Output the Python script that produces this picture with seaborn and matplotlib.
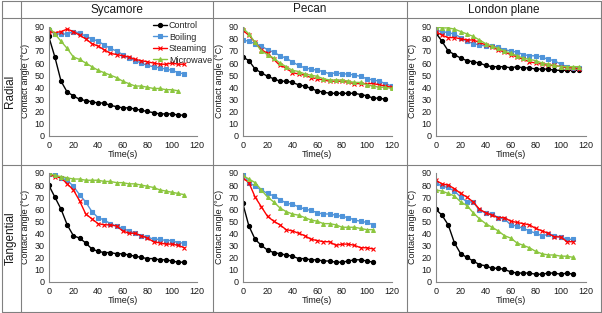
import matplotlib
matplotlib.use('Agg')
import matplotlib.pyplot as plt
import seaborn as sns
from matplotlib.lines import Line2D

sns.set_theme(style='white')
plt.rcParams['font.family'] = ['Liberation Sans', 'DejaVu Sans']

W, H = 602, 313

species = ['Sycamore', 'Pecan', 'London plane']
directions = ['Radial', 'Tangential']
treatments = ['Control', 'Boiling', 'Steaming', 'Microwave']
x_ticks = [0, 20, 40, 60, 80, 100, 120]
y_ticks = [0, 10, 20, 30, 40, 50, 60, 70, 80, 90]
x_label = 'Time(s)'
y_label = 'Contact angle (°C)'

time_0_105 = [0, 5, 10, 15, 20, 25, 30, 35, 40, 45, 50, 55, 60, 65, 70, 75, 80, 85, 90, 95, 100, 105]
time_0_110 = [0, 5, 10, 15, 20, 25, 30, 35, 40, 45, 50, 55, 60, 65, 70, 75, 80, 85, 90, 95, 100, 105, 110]
time_0_115 = [0, 5, 10, 15, 20, 25, 30, 35, 40, 45, 50, 55, 60, 65, 70, 75, 80, 85, 90, 95, 100, 105, 110, 115]
time_0_120 = [0, 5, 10, 15, 20, 25, 30, 35, 40, 45, 50, 55, 60, 65, 70, 75, 80, 85, 90, 95, 100, 105, 110, 115, 120]

# Sycamore - radial
syc_rad_control = [82, 65, 45, 36, 33, 30, 29, 28, 27, 27, 25, 24, 23, 23, 22, 21, 20, 19, 18, 18, 18, 17, 17]
syc_rad_boiling = [87, 84, 84, 84, 86, 85, 82, 80, 78, 75, 72, 70, 67, 64, 62, 60, 58, 57, 56, 55, 54, 52, 51]
syc_rad_steaming = [86, 85, 86, 88, 86, 83, 80, 76, 74, 71, 68, 67, 66, 65, 63, 62, 61, 60, 59, 59, 60, 59, 59]
syc_rad_microwave = [90, 84, 78, 72, 65, 63, 60, 57, 54, 52, 50, 48, 45, 43, 41, 41, 40, 39, 39, 38, 38, 37]
# Pecan - radial
pec_rad_control = [65, 62, 55, 52, 49, 47, 45, 45, 44, 42, 41, 39, 37, 36, 35, 35, 35, 35, 35, 34, 33, 31, 31, 30]
pec_rad_boiling = [79, 78, 76, 74, 71, 69, 66, 64, 61, 58, 56, 55, 54, 53, 51, 52, 51, 51, 50, 49, 47, 46, 45, 43, 41]
pec_rad_steaming = [87, 83, 77, 71, 68, 63, 58, 56, 52, 51, 50, 48, 47, 46, 45, 45, 45, 44, 43, 43, 43, 43, 42, 41, 40]
pec_rad_microwave = [89, 84, 77, 70, 67, 64, 60, 57, 54, 53, 51, 50, 49, 47, 46, 46, 46, 45, 44, 44, 42, 41, 40, 40, 39]
# London plane - radial
lon_rad_control = [85, 78, 70, 67, 64, 62, 61, 60, 58, 57, 57, 57, 56, 57, 56, 56, 55, 55, 55, 54, 54, 54, 54, 54]
lon_rad_boiling = [87, 86, 85, 84, 81, 78, 76, 75, 74, 74, 73, 71, 70, 69, 67, 66, 66, 65, 63, 62, 59, 57, 56, 56]
lon_rad_steaming = [86, 83, 81, 81, 80, 79, 79, 77, 75, 73, 71, 69, 67, 65, 63, 61, 60, 59, 58, 58, 57, 56, 56, 55]
lon_rad_microwave = [90, 89, 89, 88, 86, 84, 82, 79, 76, 74, 72, 70, 68, 66, 64, 63, 62, 60, 59, 58, 57, 57, 57, 57]
# Sycamore - tangential
syc_tan_control = [80, 70, 60, 47, 38, 36, 32, 27, 25, 24, 24, 23, 23, 22, 21, 20, 19, 19, 18, 18, 17, 16, 16]
syc_tan_boiling = [89, 88, 86, 84, 79, 72, 66, 58, 53, 51, 48, 46, 44, 42, 40, 38, 37, 35, 35, 34, 34, 32, 32]
syc_tan_steaming = [89, 87, 86, 81, 76, 67, 56, 52, 48, 47, 47, 46, 42, 40, 40, 38, 36, 33, 32, 31, 31, 30, 28]
syc_tan_microwave = [90, 88, 87, 86, 85, 85, 84, 84, 84, 83, 83, 82, 82, 81, 81, 80, 79, 78, 76, 75, 74, 73, 72]
# Pecan - tangential
pec_tan_control = [65, 46, 35, 30, 26, 24, 23, 22, 21, 19, 19, 18, 18, 17, 17, 16, 16, 17, 18, 18, 17, 16]
pec_tan_boiling = [90, 82, 79, 76, 73, 71, 68, 65, 64, 62, 60, 59, 57, 56, 56, 55, 54, 53, 51, 50, 49, 47]
pec_tan_steaming = [86, 82, 70, 62, 54, 50, 47, 43, 42, 40, 38, 35, 34, 33, 33, 30, 31, 31, 30, 28, 28, 27]
pec_tan_microwave = [88, 85, 82, 76, 70, 66, 61, 58, 56, 55, 53, 51, 50, 48, 48, 47, 45, 45, 45, 44, 43, 43]
# London plane - tangential
lon_tan_control = [60, 55, 47, 32, 23, 20, 17, 14, 13, 11, 11, 10, 8, 7, 7, 7, 6, 6, 7, 7, 6, 7, 6]
lon_tan_boiling = [82, 79, 78, 75, 70, 66, 66, 59, 57, 56, 53, 52, 47, 46, 44, 42, 40, 38, 39, 38, 37, 35, 35]
lon_tan_steaming = [84, 81, 80, 77, 73, 70, 66, 60, 57, 55, 53, 53, 50, 49, 48, 47, 44, 42, 40, 37, 37, 33, 33]
lon_tan_microwave = [76, 75, 73, 71, 66, 63, 57, 52, 48, 45, 42, 38, 36, 32, 30, 28, 25, 23, 22, 22, 21, 21, 20]

panels = {
    ('Radial', 'Sycamore'): [(time_0_110, syc_rad_control), (time_0_110, syc_rad_boiling),
                             (time_0_110, syc_rad_steaming), (time_0_105, syc_rad_microwave)],
    ('Radial', 'Pecan'): [(time_0_115, pec_rad_control), (time_0_120, pec_rad_boiling),
                          (time_0_120, pec_rad_steaming), (time_0_120, pec_rad_microwave)],
    ('Radial', 'London plane'): [(time_0_115, lon_rad_control), (time_0_115, lon_rad_boiling),
                                 (time_0_115, lon_rad_steaming), (time_0_115, lon_rad_microwave)],
    ('Tangential', 'Sycamore'): [(time_0_110, syc_tan_control), (time_0_110, syc_tan_boiling),
                                 (time_0_110, syc_tan_steaming), (time_0_110, syc_tan_microwave)],
    ('Tangential', 'Pecan'): [(time_0_105, pec_tan_control), (time_0_105, pec_tan_boiling),
                              (time_0_105, pec_tan_steaming), (time_0_105, pec_tan_microwave)],
    ('Tangential', 'London plane'): [(time_0_110, lon_tan_control), (time_0_110, lon_tan_boiling),
                                     (time_0_110, lon_tan_steaming), (time_0_110, lon_tan_microwave)],
}

colors = {'Control': '#000000', 'Boiling': '#4F94DA', 'Steaming': '#FF0000', 'Microwave': '#8CC63F'}
markers = {'Control': 'o', 'Boiling': 's', 'Steaming': 'x', 'Microwave': '^'}
msizes = {'Control': 3.0, 'Boiling': 2.6, 'Steaming': 2.8, 'Microwave': 2.8}

fig = plt.figure(figsize=(W / 100, H / 100), dpi=100)
fig.patch.set_facecolor('white')


def px_axes(x0, x1, ytop, ybot):
    return fig.add_axes([x0 / W, 1 - ybot / H, (x1 - x0) / W, (ybot - ytop) / H])


def px_line(xs, ys, color='#808080', lw=0.8):
    fig.add_artist(Line2D([x / W for x in xs], [1 - y / H for y in ys],
                          transform=fig.transFigure, color=color, lw=lw))


row_y = {'Radial': (26.7, 135.7), 'Tangential': (173.0, 281.5)}
col_x = {'Sycamore': (48.7, 196.7), 'Pecan': (242.7, 391.7), 'London plane': (435.7, 585.7)}

axis_gray = '#868686'
txt = '#1a1a1a'
for d in directions:
    for s in species:
        ax = px_axes(col_x[s][0], col_x[s][1], row_y[d][0], row_y[d][1])
        ax.set_facecolor('none')
        first = (d == 'Radial' and s == 'Sycamore')
        for t, (tx, ty) in zip(treatments, panels[(d, s)]):
            kw = dict(label=t) if first else {}
            sns.lineplot(x=tx, y=ty, ax=ax, color=colors[t], marker=markers[t],
                         markersize=msizes[t], mec=colors[t], mfc=colors[t],
                         mew=0.8, lw=1.0, **kw)
        ax.set_xlim(0, 120)
        ax.set_ylim(0, 90)
        ax.set_xticks(x_ticks)
        ax.set_yticks(y_ticks)
        ax.set_xticklabels([str(v) for v in x_ticks])
        ax.set_yticklabels([str(v) for v in y_ticks])
        for sp in ['top', 'right']:
            ax.spines[sp].set_visible(False)
        for sp in ['left', 'bottom']:
            ax.spines[sp].set_color(axis_gray)
            ax.spines[sp].set_linewidth(0.8)
        ax.tick_params(axis='both', direction='in', length=2.5, width=0.7, color=axis_gray,
                       labelsize=6.5, labelcolor=txt)
        ax.tick_params(axis='x', pad=4)
        ax.tick_params(axis='y', pad=3)
        ax.set_xlabel(x_label, fontsize=6.5, color=txt)
        ax.set_ylabel(y_label, fontsize=6.5, color=txt)
        ax.xaxis.set_label_coords(0.5, -0.13)
        ax.yaxis.set_label_coords(-0.125, 0.5)
        if first:
            ax.legend(loc='upper left', bbox_to_anchor=(153 / W, 1 - 21 / H),
                      bbox_transform=fig.transFigure, frameon=False, fontsize=6.5,
                      handlelength=1.5, handletextpad=0.25, labelspacing=0.28,
                      borderpad=0, borderaxespad=0)
        else:
            if ax.get_legend() is not None:
                ax.get_legend().remove()

# table grid
X = [1.5, 20.5, 213.0, 407.0, 600.8]
Y = [0.5, 18.0, 165.0, 311.5]
for y in Y:
    px_line([X[0], X[-1]], [y, y])
for x in X:
    px_line([x, x], [Y[0], Y[-1]])

# headers
col_centers = {'Sycamore': 116.5, 'Pecan': 310.0, 'London plane': 504.0}
for s in species:
    fig.text(col_centers[s] / W, 1 - 9.5 / H, s, ha='center', va='center', fontsize=8.5, color=txt)
row_centers = {'Radial': 91.5, 'Tangential': 238.0}
for d in directions:
    fig.text(10.5 / W, 1 - row_centers[d] / H, d, ha='center', va='center', rotation=90,
             fontsize=8.5, color=txt)

fig.savefig('out.png', dpi=100)
